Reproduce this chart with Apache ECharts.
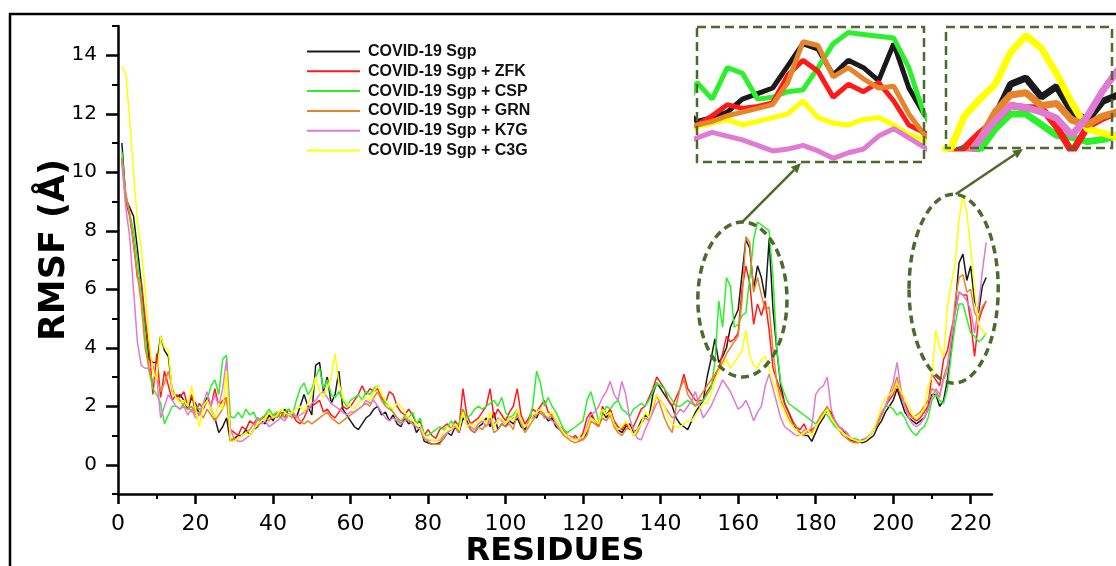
<!DOCTYPE html>
<html>
<head>
<meta charset="utf-8">
<script src="https://cdn.jsdelivr.net/npm/echarts@6/dist/echarts.min.js"></script>
<style>
  html, body { margin: 0; padding: 0; background: #fff; }
  #chart { width: 1116px; height: 566px; }
</style>
</head>
<body>
<div id="chart"></div>
<script>
// series names and colours, legend order
var seriesNames = ['COVID-19 Sgp', 'COVID-19 Sgp + ZFK', 'COVID-19 Sgp + CSP', 'COVID-19 Sgp + GRN', 'COVID-19 Sgp + K7G', 'COVID-19 Sgp + C3G']
var seriesColors = ['#1a1a1a', '#ff1a1a', '#2cf02c', '#e6842a', '#e07ad2', '#ffff00']

// RMSF per residue (residue 1..224)
var rmsfSgp = [
  11.0, 9.1, 8.8, 8.5, 7.4, 6.2, 4.7, 3.6, 3.5, 3.5,
  4.4, 3.9, 3.7, 2.5, 2.3, 2.4, 2.2, 1.9, 2.3, 2.1,
  1.7, 2.0, 2.3, 1.9, 1.6, 1.1, 1.3, 1.6, 0.8, 0.9,
  1.0, 1.0, 1.2, 1.0, 1.2, 1.3, 1.5, 1.4, 1.7, 1.5,
  1.8, 1.6, 1.9, 1.7, 1.8, 1.6, 2.0, 2.4, 2.0, 1.7,
  3.4, 3.5, 2.5, 3.0, 2.1, 2.4, 3.2, 1.9, 1.7, 1.5,
  1.3, 1.2, 1.4, 1.6, 1.7, 1.9, 2.0, 1.7, 1.8, 1.5,
  1.7, 1.4, 1.3, 1.6, 1.4, 1.5, 1.1, 1.3, 0.8, 0.75,
  0.7, 0.7, 0.75, 0.9, 1.1, 1.0, 1.3, 1.1, 1.6, 1.5,
  1.2, 1.1, 1.3, 1.4, 1.6, 1.3, 1.8, 1.2, 1.4, 1.3,
  1.5, 1.4, 1.6, 1.3, 1.2, 1.5, 1.7, 1.6, 1.9, 1.7,
  1.5, 1.6, 1.3, 1.2, 1.1, 1.0, 0.95, 0.9, 0.85, 0.9,
  1.1, 1.7, 1.5, 1.4, 1.8, 1.6, 1.9, 1.4, 1.2, 1.1,
  1.3, 1.4, 1.1, 1.2, 1.5, 1.7, 1.6, 2.4, 2.8, 2.6,
  2.4, 2.2, 2.0, 1.6, 1.4, 1.3, 1.2, 1.5, 1.8, 2.0,
  2.2, 3.0, 3.6, 4.3, 3.5, 3.7, 4.0, 4.7, 5.0, 5.3,
  6.5, 7.7, 7.4, 6.0, 6.8, 6.4, 5.7, 7.7, 5.3, 3.9,
  2.7, 2.1, 1.8, 1.5, 1.2, 1.1, 1.0, 1.0, 0.8, 1.1,
  1.4, 1.6, 1.9, 1.8, 1.5, 1.3, 1.2, 1.0, 0.85, 0.8,
  0.8, 0.75, 0.8, 0.9, 1.0, 1.3, 1.5, 1.8, 2.0, 2.2,
  2.6, 2.2, 1.8, 1.6, 1.5, 1.4, 1.5, 1.6, 1.9, 2.4,
  2.4, 2.0, 2.2, 2.9, 4.0, 5.4, 6.9, 7.2, 6.3, 6.8,
  5.6, 5.2, 6.1, 6.4
]
var rmsfZFK = [
  10.5, 9.0, 8.5, 7.6, 6.4, 6.3, 5.0, 4.0, 2.4, 3.8,
  2.3, 3.2, 2.7, 2.2, 2.4, 2.3, 2.5, 2.0, 2.4, 1.8,
  2.1, 1.9, 2.2, 2.0, 2.6, 2.0, 2.2, 2.3, 1.2, 1.1,
  1.0, 1.3, 1.2, 1.5, 1.4, 1.6, 1.5, 1.7, 1.8, 1.6,
  1.7, 1.8, 1.6, 1.9, 1.7, 1.5, 1.4, 1.6, 1.9, 2.0,
  2.1, 2.2, 1.8, 1.9, 1.7, 1.6, 1.8, 2.0, 1.9, 2.0,
  2.2, 2.4, 2.7, 2.4, 2.6, 2.5, 2.6, 2.3, 2.1, 2.5,
  2.4, 2.0, 1.8, 1.7, 1.9, 1.7, 1.4, 1.5, 1.0, 1.2,
  1.0, 0.9, 1.2, 1.3, 1.4, 1.2, 1.5, 1.3, 2.6, 1.7,
  1.4, 1.5, 1.6, 1.8, 2.0, 2.6, 1.6, 1.9, 1.7, 1.5,
  1.8, 2.0, 2.6, 1.7, 1.4, 1.6, 1.9, 1.8, 2.0, 2.2,
  1.8, 1.7, 1.5, 1.3, 1.2, 1.0, 0.9, 1.0, 0.85, 1.1,
  1.6, 1.8, 1.5, 1.3, 2.0, 1.7, 1.9, 1.5, 1.3, 1.2,
  1.4, 1.2, 1.3, 1.6, 1.9, 2.0, 2.3, 2.6, 3.0, 2.8,
  2.6, 2.2, 2.0, 2.3, 2.6, 3.1, 2.6, 2.4, 2.2, 2.2,
  2.2, 2.5, 2.7, 3.0, 3.3, 3.8, 4.4, 4.2, 4.3, 4.5,
  6.0, 6.8, 6.2, 4.8, 5.5, 5.1, 5.6, 4.6, 3.3, 2.9,
  2.5, 2.1, 1.8, 1.5, 1.3, 1.2, 1.4, 1.1, 1.2, 1.3,
  1.5, 1.7, 1.9, 1.7, 1.4, 1.3, 1.2, 1.1, 0.9, 0.8,
  0.8, 0.85, 0.9, 1.0, 1.2, 1.4, 1.7, 2.0, 2.2, 2.4,
  2.8, 2.3, 2.1, 1.8, 1.6, 1.5, 1.6, 1.8, 2.0, 3.1,
  2.9, 2.7, 3.6, 3.9, 4.6, 5.2, 5.9, 5.8, 5.8, 4.9,
  3.7, 4.9, 5.3, 5.6
]
var rmsfCSP = [
  10.7, 9.2, 8.6, 8.0, 7.0, 5.8, 4.5, 3.2, 2.6, 2.4,
  2.1, 1.4, 1.7, 2.0, 2.0, 1.9, 2.1, 2.0, 1.8, 2.0,
  1.9, 2.0, 2.2, 2.7, 2.9, 2.4, 3.6, 3.75, 1.65, 1.6,
  1.8, 1.6, 1.9, 1.7, 1.8, 1.5, 1.6, 1.7, 1.9, 1.7,
  1.8, 1.6, 1.8, 1.9, 1.7, 2.2, 2.6, 2.8, 2.4, 2.6,
  3.0, 3.3, 2.6, 2.9, 2.4, 2.3, 2.5, 2.2, 2.0, 2.2,
  2.3, 2.4, 2.2, 2.5, 2.4, 2.6, 2.7, 2.4, 2.1, 2.0,
  1.8, 1.6, 1.4, 1.7, 1.6, 1.8, 1.4, 1.6, 1.0, 1.0,
  1.1, 1.2, 1.3, 1.2, 1.3, 1.5, 1.3, 1.4, 1.9, 1.6,
  1.7, 1.9, 2.0, 1.9, 2.0, 2.1, 2.2, 2.0, 2.3, 1.8,
  1.6, 1.7, 1.9, 1.5, 1.3, 1.5, 2.0, 3.2, 2.8, 2.0,
  2.3, 2.0, 1.8, 1.5, 1.2, 1.1, 1.2, 1.3, 1.4, 1.5,
  2.2, 2.5, 2.0, 1.5, 1.7, 2.0, 1.9, 2.1, 2.2, 1.9,
  1.8, 1.65, 1.9, 2.0, 2.1, 2.0, 2.2, 2.5, 2.8, 2.7,
  2.6, 2.4, 2.2, 2.0, 2.0, 2.1, 2.2, 2.1, 2.0, 2.1,
  2.2, 2.4, 2.6, 3.5, 5.6, 4.7, 6.4, 6.1, 4.7, 4.8,
  5.1, 5.2, 6.4, 7.7, 8.3, 8.2, 8.1, 8.0, 6.4, 3.9,
  2.8, 2.4, 2.1, 2.0, 1.9, 1.8, 1.7, 1.6, 1.5, 1.4,
  1.6, 1.8, 1.7, 1.5, 1.3, 1.2, 1.1, 1.0, 0.9, 0.9,
  0.85, 0.8, 0.9, 1.0, 1.2, 1.5, 1.7, 2.0, 2.0, 1.9,
  1.7, 1.8, 1.6, 1.3, 1.1, 1.0, 1.2, 1.3, 1.6, 2.2,
  2.4, 2.2, 2.1, 2.6, 3.8, 4.8, 5.5, 5.5, 5.0, 4.5,
  4.4, 4.2, 4.3, 4.5
]
var rmsfGRN = [
  10.4, 9.3, 8.6, 7.5, 6.5, 5.5, 4.0, 3.3, 2.8, 3.0,
  2.5, 2.8, 3.2, 2.6, 2.3, 2.2, 2.0, 1.9, 2.0, 1.7,
  1.8, 1.6, 1.9, 1.7, 1.5, 1.7, 1.9, 2.3, 0.9, 0.85,
  0.9, 1.0, 1.1, 1.2, 1.4, 1.3, 1.5, 1.6, 1.5, 1.7,
  1.6, 1.8, 1.6, 1.7, 1.6, 1.7, 1.5, 1.4, 1.5, 1.4,
  1.5, 1.6, 1.7, 1.8, 1.6, 1.5, 1.4, 1.5, 1.6, 1.7,
  1.8, 1.9, 2.0, 2.1, 2.0, 2.3, 2.5, 2.2, 2.0, 1.9,
  1.8, 1.6, 1.5, 1.6, 1.5, 1.4, 1.3, 1.2, 0.9, 0.8,
  0.7, 0.7, 0.7, 0.9, 1.1, 1.2, 1.3, 1.1, 1.9, 1.4,
  1.2, 1.1, 1.3, 1.2, 1.4, 1.6, 1.1, 1.2, 1.4, 1.3,
  1.4, 1.2, 1.8, 1.4, 1.1, 1.3, 1.5, 1.7, 1.8, 1.6,
  1.6, 1.7, 1.4, 1.2, 1.0, 0.9, 0.8, 0.75, 0.8, 0.85,
  1.0, 1.5, 1.4, 1.3, 1.6, 1.5, 1.7, 1.3, 1.1, 1.0,
  1.2, 1.3, 1.0, 1.1, 1.4, 1.6, 1.5, 1.9, 2.4, 2.0,
  1.6, 1.3, 1.1, 2.0, 2.6, 2.9, 2.4, 2.2, 2.0, 2.3,
  2.5, 2.7, 2.9, 3.1, 3.3, 3.5, 3.8, 4.0, 4.2, 4.4,
  5.6, 7.8, 7.6, 5.9, 6.4, 5.8, 5.3, 5.4, 3.9, 2.8,
  2.2, 1.9, 1.6, 1.4, 1.3, 1.1, 1.0, 1.2, 1.1, 1.3,
  1.6, 1.8, 2.0, 1.7, 1.4, 1.2, 1.0, 0.9, 0.8, 0.75,
  0.75, 0.8, 0.9, 1.0, 1.2, 1.4, 1.7, 2.0, 2.3, 2.6,
  3.0, 2.4, 2.0, 1.7, 1.6, 1.7, 1.8, 2.0, 2.2, 2.6,
  2.5, 2.3, 3.0, 3.4, 4.3, 5.6, 6.4, 6.5, 5.9, 6.0,
  5.2, 5.0, 5.4, 5.6
]
var rmsfK7G = [
  10.3, 8.8, 7.8, 6.0, 4.2, 3.4, 3.3, 3.3, 3.4, 3.0,
  1.6, 2.0, 2.4, 2.2, 2.0, 1.9, 2.0, 1.7, 1.9, 1.6,
  1.7, 2.1, 2.5, 2.0, 2.4, 2.0, 2.6, 3.6, 1.2, 0.9,
  0.8, 0.8, 0.9, 1.0, 1.2, 1.6, 1.4, 1.5, 1.3, 1.4,
  1.5, 1.6, 1.5, 1.7, 1.8, 1.6, 1.7, 1.8, 1.9, 2.1,
  2.2, 2.4, 2.5, 2.3, 2.1, 2.0, 1.9, 1.8, 1.7, 1.8,
  1.8, 1.9, 2.0, 2.2, 2.1, 2.2, 2.0, 1.8, 1.6, 1.5,
  1.6, 1.5, 1.4, 1.5, 1.6, 1.4, 1.3, 1.2, 0.9, 0.85,
  0.85, 0.8, 0.85, 1.0, 1.1, 1.2, 1.3, 1.2, 1.8, 1.4,
  1.3, 1.2, 1.4, 1.5, 1.3, 1.5, 1.4, 1.6, 1.5, 1.4,
  1.5, 1.6, 1.7, 1.5, 1.3, 1.5, 1.6, 1.8, 1.9, 1.7,
  1.6, 1.5, 1.4, 1.2, 1.1, 1.0, 0.95, 0.9, 0.85, 0.9,
  1.3, 1.7, 1.8, 2.0, 2.3, 2.5, 2.85, 2.4, 2.2, 2.85,
  2.4, 1.6, 1.2, 0.9, 0.85, 1.2, 1.5, 1.8, 2.1, 2.2,
  2.0, 1.8, 1.6, 1.7, 1.9, 1.8, 2.0, 2.2, 2.5, 2.0,
  1.6, 1.8, 2.0, 2.3, 2.6, 2.9, 2.7, 2.5, 2.2, 1.9,
  2.0, 2.2, 1.9, 1.5, 1.8, 2.0, 2.7, 3.1, 2.6, 2.1,
  1.6, 1.3, 1.2, 1.1, 1.0, 1.0, 1.2, 1.1, 1.3, 2.4,
  2.6, 2.7, 3.0, 1.9, 1.5, 1.3, 1.2, 1.1, 0.9, 0.85,
  0.8, 0.8, 0.9, 1.0, 1.2, 1.5, 1.8, 2.0, 2.4, 2.8,
  3.5, 2.6, 2.0, 1.6, 1.4, 1.3, 1.4, 1.6, 1.9, 2.3,
  2.6, 2.4, 2.9, 3.2, 4.3, 5.2, 5.9, 5.8, 5.6, 5.3,
  4.5, 5.4, 6.6, 7.6
]
var rmsfC3G = [
  13.6, 13.4, 11.8, 10.0, 8.3, 7.4, 6.0, 4.3, 3.2, 2.9,
  4.4, 4.0, 3.9, 2.5, 2.3, 2.1, 2.2, 2.0, 2.7, 1.9,
  1.3, 2.0, 2.2, 1.9, 1.6, 2.1, 1.9, 3.2, 0.8, 0.8,
  0.9, 1.0, 1.1, 1.0, 1.2, 1.4, 1.5, 1.6, 1.8, 1.6,
  1.7, 1.9, 1.8, 1.7, 1.8, 1.9, 2.0, 1.8, 2.1, 2.4,
  3.0, 2.5, 2.3, 2.6, 3.0, 3.8, 2.8, 2.3, 2.1, 2.0,
  1.9, 2.1, 2.2, 2.3, 2.2, 2.5, 2.7, 2.4, 2.2, 2.0,
  1.9, 2.1, 2.0, 1.8, 1.6, 1.5, 1.4, 1.3, 1.0, 0.9,
  0.85, 0.8, 0.9, 1.1, 1.3, 1.2, 1.4, 1.2, 1.8, 1.3,
  1.4, 1.3, 1.5, 1.6, 1.4, 1.8, 1.3, 1.5, 1.6, 1.4,
  1.6, 1.5, 1.9, 1.5, 1.3, 1.4, 1.7, 1.8, 1.9, 1.8,
  1.7, 1.8, 1.5, 1.3, 1.1, 1.0, 0.9, 0.85, 0.9, 0.95,
  1.2, 1.6, 1.5, 1.4, 1.9, 1.7, 1.8, 1.4, 1.2, 1.3,
  1.5, 1.3, 1.0, 1.2, 1.4, 1.8, 1.6, 2.0, 2.4, 2.2,
  2.0, 1.6, 1.4, 1.3, 1.3, 1.4, 1.5, 1.5, 1.7, 1.9,
  2.1, 2.1, 2.4, 2.9, 3.2, 3.4, 3.6, 3.3, 3.5, 3.7,
  3.9, 4.6, 3.7, 3.4, 3.3, 3.6, 3.7, 3.3, 2.8, 2.5,
  2.1, 1.8, 1.5, 1.3, 1.2, 1.0, 1.1, 1.2, 1.0, 1.3,
  1.5, 1.7, 1.9, 1.6, 1.4, 1.2, 1.1, 1.0, 0.9, 0.85,
  0.8, 0.8, 0.85, 1.0, 1.2, 1.6, 2.0, 2.3, 2.4, 2.5,
  2.8, 2.5, 2.3, 2.0, 1.7, 1.6, 1.7, 1.9, 2.7, 3.0,
  4.6, 4.0, 3.7, 5.4, 6.2, 6.9, 8.4, 9.2, 8.6, 7.4,
  6.0, 4.8, 4.6, 4.4
]
var allSeries = [rmsfSgp, rmsfZFK, rmsfCSP, rmsfGRN, rmsfK7G, rmsfC3G]

// tick values
var xTicks = [0, 20, 40, 60, 80, 100, 120, 140, 160, 180, 200, 220]
var xMinorTicks = [10, 30, 50, 70, 90, 110, 130, 150, 170, 190, 210]
var yTicks = [0, 2, 4, 6, 8, 10, 12, 14]
var yMinorTicks = [-1, 1, 3, 5, 7, 9, 11, 13, 15]

// zoomed windows shown in the two insets (data ranges)
var zoomLeft = { x: [155, 170], y: [1.3, 8.6] }
var zoomRight = { x: [212.8, 223.6], y: [3.9, 9.6] }
// highlight ellipses around the two peaks (data units)
var ringLeft = { cx: 161.1, cy: 5.65, rx: 11.5, ry: 2.65 }
var ringRight = { cx: 215.6, cy: 6.02, rx: 11.5, ry: 3.23 }

// layout
var mainBox = { left: 118, top: 26, width: 874, height: 468 }
var insetLeft = { left: 697, top: 27, width: 227, height: 135 }
var insetRight = { left: 946, top: 27, width: 166, height: 121 }
var olive = '#4d6a2d'

function toPairs(vals) {
  return vals.map(function (v, i) { return [i + 1, v] })
}

var chart = echarts.init(document.getElementById('chart'), null, { renderer: 'canvas' })

var series = []
// main chart
for (var i = 0; i < allSeries.length; i++) {
  series.push({
    type: 'line',
    name: seriesNames[i],
    data: toPairs(allSeries[i]),
    xAxisIndex: 0,
    yAxisIndex: 0,
    symbol: 'none',
    lineStyle: { color: seriesColors[i], width: 1.5 },
    itemStyle: { color: seriesColors[i] },
    z: 3
  })
}
// insets (thicker lines)
var insetOrder = [0, 2, 1, 5, 3, 4]
insetOrder.forEach(function (k) {
  series.push({
    type: 'line', name: seriesNames[k], data: toPairs(allSeries[k]),
    xAxisIndex: 2, yAxisIndex: 2, symbol: 'none',
    lineStyle: { color: seriesColors[k], width: 5 }, itemStyle: { color: seriesColors[k] }
  })
  series.push({
    type: 'line', name: seriesNames[k], data: toPairs(allSeries[k]),
    xAxisIndex: 3, yAxisIndex: 3, symbol: 'none',
    lineStyle: { color: seriesColors[k], width: 7 }, itemStyle: { color: seriesColors[k] }
  })
})

var tickFont = 'DejaVu Sans, sans-serif'

function box(b) {
  return { left: b.left, top: b.top, width: b.width, height: b.height, outerBoundsMode: 'none', containLabel: false }
}

var option = {
  animation: false,
  backgroundColor: '#fff',
  grid: [box(mainBox), box(insetLeft), box(insetRight)],
  legend: {
    data: seriesNames,
    orient: 'vertical',
    left: 302,
    top: 38.5,
    icon: 'rect',
    itemWidth: 53,
    itemHeight: 2,
    itemGap: 3.8,
    textStyle: { fontFamily: 'Liberation Sans, Arial, sans-serif', fontWeight: 'bold', fontSize: 16, color: '#111', padding: [0, 0, 0, 3] }
  },
  xAxis: [
    {
      type: 'value', gridIndex: 0, min: 0, max: 225.5, position: 'bottom',
      axisLine: { onZero: false, lineStyle: { color: '#000', width: 2.5 } },
      axisTick: { customValues: xTicks, length: 10, lineStyle: { color: '#000', width: 2.5 } },
      axisLabel: { customValues: xTicks, fontFamily: tickFont, fontSize: 22, color: '#000', margin: 19 },
      splitLine: { show: false },
      name: 'RESIDUES', nameLocation: 'middle', nameGap: 42, nameMoveOverlap: false,
      nameTextStyle: { fontFamily: tickFont, fontWeight: 'bold', fontSize: 32, color: '#000' }
    },
    {
      type: 'value', gridIndex: 0, min: 0, max: 225.5, position: 'bottom',
      axisLine: { show: false, onZero: false },
      axisTick: { customValues: xMinorTicks, length: 5, lineStyle: { color: '#000', width: 2 } },
      axisLabel: { show: false },
      splitLine: { show: false }
    },
    { type: 'value', gridIndex: 1, min: zoomLeft.x[0], max: zoomLeft.x[1], show: false },
    { type: 'value', gridIndex: 2, min: zoomRight.x[0], max: zoomRight.x[1], show: false }
  ],
  yAxis: [
    {
      type: 'value', gridIndex: 0, min: -1, max: 15, position: 'left',
      axisLine: { show: true, onZero: false, lineStyle: { color: '#000', width: 2.5 } },
      axisTick: { show: true, customValues: yTicks, length: 12, lineStyle: { color: '#000', width: 2.5 } },
      axisLabel: { customValues: yTicks, fontFamily: tickFont, fontSize: 20, color: '#000', margin: 21 },
      splitLine: { show: false },
      name: 'RMSF (\u00c5)', nameLocation: 'middle', nameGap: 46, nameMoveOverlap: false,
      nameTextStyle: { fontFamily: tickFont, fontWeight: 'bold', fontSize: 35, color: '#000', padding: [0, 0, 0, 20] }
    },
    {
      type: 'value', gridIndex: 0, min: -1, max: 15, position: 'left',
      axisLine: { show: false, onZero: false },
      axisTick: { show: true, customValues: yMinorTicks, length: 6, lineStyle: { color: '#000', width: 2 } },
      axisLabel: { show: false },
      splitLine: { show: false }
    },
    { type: 'value', gridIndex: 1, min: zoomLeft.y[0], max: zoomLeft.y[1], show: false },
    { type: 'value', gridIndex: 2, min: zoomRight.y[0], max: zoomRight.y[1], show: false }
  ],
  series: series
}
chart.setOption(option)

// annotation: dashed frames, rings around the peaks and arrows to the insets
function px(pt) {
  return chart.convertToPixel({ xAxisIndex: 0, yAxisIndex: 0 }, pt)
}
function ringShape(r) {
  var c = px([r.cx, r.cy])
  var e = px([r.cx + r.rx, r.cy + r.ry])
  return { cx: c[0], cy: c[1], rx: e[0] - c[0], ry: c[1] - e[1] }
}
function arrow(from, to) {
  var a = Math.atan2(to[1] - from[1], to[0] - from[0])
  var len = 10, half = 4.5
  var bx = to[0] - len * Math.cos(a), by = to[1] - len * Math.sin(a)
  return [
    { type: 'line', z: 100, shape: { x1: from[0], y1: from[1], x2: bx, y2: by },
      style: { stroke: olive, lineWidth: 2.5 } },
    { type: 'polygon', z: 100,
      shape: { points: [to, [bx + half * Math.sin(a), by - half * Math.cos(a)], [bx - half * Math.sin(a), by + half * Math.cos(a)]] },
      style: { fill: olive } }
  ]
}
var rl = ringShape(ringLeft)
var rr = ringShape(ringRight)
var graphics = [
  { type: 'rect', z: 100, silent: true, shape: { x: 10, y: 14, width: 1130, height: 600 },
    style: { fill: 'none', stroke: '#000', lineWidth: 2.5 } },
  { type: 'rect', z: 100, shape: { x: insetLeft.left, y: insetLeft.top, width: insetLeft.width, height: insetLeft.height },
    style: { fill: 'none', stroke: olive, lineWidth: 2.5, lineDash: [9, 5] } },
  { type: 'rect', z: 100, shape: { x: insetRight.left, y: insetRight.top, width: insetRight.width, height: insetRight.height },
    style: { fill: 'none', stroke: olive, lineWidth: 2.5, lineDash: [9, 5] } },
  { type: 'ellipse', z: 100, shape: rl, style: { fill: 'none', stroke: olive, lineWidth: 3.5, lineDash: [8, 5] } },
  { type: 'ellipse', z: 100, shape: rr, style: { fill: 'none', stroke: olive, lineWidth: 3.5, lineDash: [8, 5] } }
]
graphics = graphics
  .concat(arrow([rl.cx, rl.cy - rl.ry], [insetLeft.left + 104, insetLeft.top + insetLeft.height + 1]))
  .concat(arrow([rr.cx + 2, rr.cy - rr.ry], [insetRight.left + 77, insetRight.top + insetRight.height + 1]))
chart.setOption({ graphic: graphics })
</script>
</body>
</html>
